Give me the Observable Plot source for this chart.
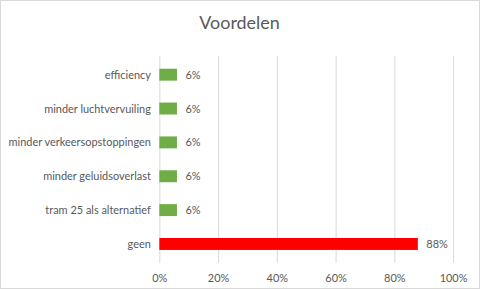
<!DOCTYPE html>
<html>
<head>
<meta charset="utf-8">
<script src="https://cdn.jsdelivr.net/npm/d3@7"></script>
<script src="https://cdn.jsdelivr.net/npm/@observablehq/plot@0.6"></script>
<style>
  html, body { margin: 0; padding: 0; background: #fff; }
  #chart { width: 480px; height: 289px; box-sizing: border-box; border: 1px solid #d9d9d9; overflow: hidden; position: relative; }
  #chart svg { position: absolute; left: -1px; top: -1px; }
</style>
</head>
<body>
<div id="chart"></div>
<script>
const title = "Voordelen";
const categories = ["efficiency", "minder luchtvervuiling", "minder verkeersopstoppingen", "minder geluidsoverlast", "tram 25 als alternatief", "geen"];
const values = [6, 6, 6, 6, 6, 88];
const colors = ["#70ad47", "#70ad47", "#70ad47", "#70ad47", "#70ad47", "#ff0000"];
const xTicks = [0, 20, 40, 60, 80, 100];

const data = categories.map((c, i) => ({category: c, value: values[i], color: colors[i]}));

const plot = Plot.plot({
  width: 480,
  height: 289,
  marginTop: 56,
  marginBottom: 25,
  marginLeft: 160,
  marginRight: 25,
  style: {fontFamily: "Lato, 'Open Sans', sans-serif", fontSize: "11px", color: "#595959", background: "transparent"},
  x: {domain: [0, 100], ticks: xTicks, tickFormat: d => d + "%", label: null, tickSize: 0, tickPadding: 8},
  y: {domain: categories, paddingInner: 0.65, paddingOuter: 0.32, label: null, tickSize: 0, tickPadding: 8},
  marks: [
    Plot.gridX(xTicks, {stroke: "#d9d9d9", strokeOpacity: 1}),
    Plot.barX(data, {y: "category", x: "value", fill: "color"}),
    Plot.text(data, {y: "category", x: "value", text: d => d.value + "%", textAnchor: "start", dx: 8, fill: "#595959", fontSize: 11}),
    Plot.axisX({ticks: xTicks, tickFormat: d => d + "%", tickSize: 0, tickPadding: 11, fill: "#595959", label: null, fontSize: 11}),
    Plot.axisY({tickSize: 0, tickPadding: 9, fill: "#595959", label: null, fontSize: 11}),
    Plot.text([title], {frameAnchor: "top", lineAnchor: "middle", dy: -33, dx: -67.5, fontSize: 18, fill: "#595959"})
  ]
});
document.getElementById("chart").appendChild(plot);
</script>
</body>
</html>
